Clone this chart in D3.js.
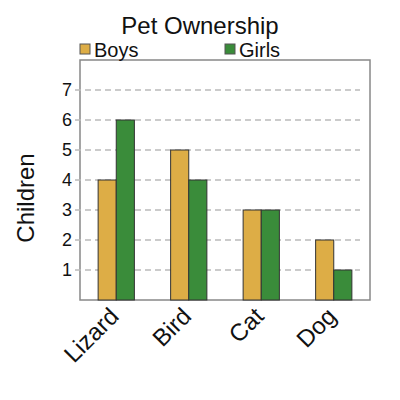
<!DOCTYPE html>
<html><head><meta charset="utf-8">
<script src="https://cdn.jsdelivr.net/npm/d3@7"></script>
<style>body{margin:0;background:#fff;} text{font-family:"Liberation Sans",Arial,sans-serif;}</style>
</head><body><svg id="c" width="400" height="400"></svg>
<script>
const categories = ["Lizard","Bird","Cat","Dog"];
const seriesNames = ["Boys","Girls"];
const boys = [4,5,3,2];
const girls = [6,4,3,1];
const yTicks = [1,2,3,4,5,6,7];
const colors = ["#DDAD46","#3A8C3A"];

const svg = d3.select("#c");
const L=80,R=370,T=60,B=300;
const x = d3.scaleBand().domain(categories).range([L,R]).paddingInner(0.5).paddingOuter(0.25);
const xs = d3.scaleBand().domain(seriesNames).range([0,x.bandwidth()]);
const y = d3.scaleLinear().domain([0,8]).range([B,T]);

svg.append("rect").attr("x",L).attr("y",T).attr("width",R-L).attr("height",B-T)
  .attr("fill","#fff").attr("stroke","#888").attr("stroke-width",1.5);

svg.append("g").selectAll("line").data(yTicks).join("line")
  .attr("x1",75).attr("x2",R-10).attr("y1",d=>y(d)).attr("y2",d=>y(d))
  .attr("stroke","#bbb").attr("stroke-width",1.5).attr("stroke-dasharray","6,4");

svg.append("g").selectAll("text").data(yTicks).join("text")
  .attr("x",72).attr("y",d=>y(d)).attr("dy","0.35em").attr("text-anchor","end")
  .attr("font-size",18).attr("fill","#111").text(d=>d);

const data = [boys, girls];
seriesNames.forEach((s,i)=>{
  svg.append("g").selectAll("rect").data(categories).join("rect")
    .attr("x",c=>x(c)+xs(s)).attr("width",xs.bandwidth())
    .attr("y",(c,j)=>y(data[i][j])).attr("height",(c,j)=>y(0)-y(data[i][j]))
    .attr("fill",colors[i]).attr("stroke","#333").attr("stroke-width",1);
});

svg.append("g").selectAll("text").data(categories).join("text")
  .attr("transform",c=>`translate(${x(c)+x.bandwidth()/2-8},${B+6}) rotate(-45)`)
  .attr("text-anchor","end").attr("dy","0.7em").attr("font-size",24).attr("fill","#111").text(c=>c);

svg.append("text").attr("x",200).attr("y",34).attr("text-anchor","middle")
  .attr("font-size",24).attr("fill","#111").text("Pet Ownership");

svg.append("text").attr("transform","translate(34,198) rotate(-90)").attr("text-anchor","middle")
  .attr("font-size",24).attr("fill","#111").text("Children");

const legX = [80,225];
seriesNames.forEach((s,i)=>{
  svg.append("rect").attr("x",legX[i]).attr("y",44).attr("width",10).attr("height",10)
    .attr("fill",colors[i]).attr("stroke","#555");
  svg.append("text").attr("x",legX[i]+14).attr("y",50).attr("dy","0.35em")
    .attr("font-size",20).attr("fill","#111").text(s);
});
</script></body></html>
